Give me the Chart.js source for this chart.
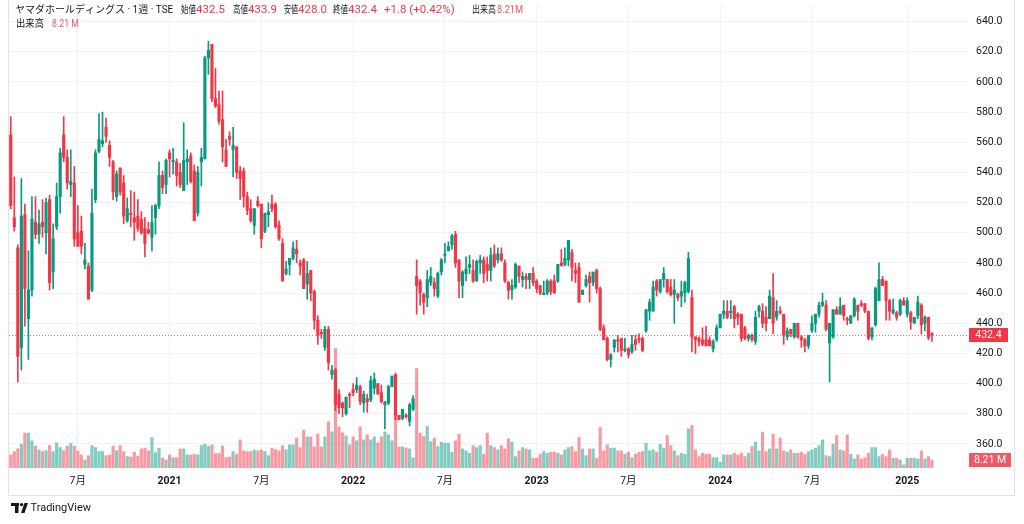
<!DOCTYPE html>
<html>
<head>
<meta charset="utf-8">
<script src="https://cdn.jsdelivr.net/npm/chart.js@4/dist/chart.umd.min.js"></script>
<style>
html,body{margin:0;padding:0;background:#fff;}
#wrap{width:1024px;height:524px;position:relative;}
</style>
</head>
<body>
<div id="wrap"><canvas id="c" width="1024" height="524"></canvas></div>
<script>
// weekly OHLC (week of 2020-02-24 .. 2025-02-24)
const opens = [565,510,490,424,512,443,462,507,499,507,
500,522,474,504,524,565,550,532,533,500,
501,479,478,462,522,554,559,570,558,547,
524,543,533,508,513,510,511,509,503,502,
497,510,518,538,532,553,547,547,540,528,
547,551,541,513,547,549,616,625,589,585,
575,555,564,555,557,541,541,524,516,505,
521,519,501,512,519,519,505,493,473,479,
483,489,480,482,466,475,461,442,434,424,
436,406,409,393,387,380,393,396,396,398,
387,390,389,397,400,394,386,387,398,406,
379,377,379,375,383,471,468,459,457,467,
467,458,474,485,488,492,499,482,465,473,
477,475,468,480,482,479,475,486,482,486,
480,467,462,464,478,469,471,469,473,468,
465,459,460,468,468,468,480,479,482,487,
475,477,459,465,471,467,475,463,437,430,
416,424,429,430,422,423,421,429,430,430,
435,448,448,468,461,469,469,464,459,459,
458,460,461,457,431,430,429,429,429,423,
429,437,446,448,447,451,446,446,437,430,
432,428,448,448,444,443,457,444,448,446,
431,436,431,440,431,429,425,435,440,446,
452,452,427,431,449,446,452,443,440,445,
452,453,453,448,431,439,455,469,468,455,
447,447,446,455,446,447,440,445,452,440,
444,432.5];

const highs = [577,537,492,536,519,488,524,524,515,522,
523,525,506,533,556,577,555,555,544,518,
511,493,480,529,555,579,580,576,561,548,
541,543,538,523,528,527,522,514,510,507,
518,519,547,541,549,555,556,549,546,573,
555,553,545,544,556,617,627,625,609,594,
594,562,567,570,557,544,543,527,522,516,
524,519,513,520,525,520,508,496,481,483,
494,495,482,483,481,475,462,445,436,438,
438,412,410,396,388,391,394,400,404,399,
395,393,405,407,400,399,388,399,405,407,
379,383,380,387,392,482,469,460,475,477,
470,474,483,493,494,499,501,482,475,484,
485,482,482,485,484,484,490,492,490,490,
482,468,469,480,478,474,473,473,477,469,
465,468,469,469,472,479,489,490,495,489,
480,480,462,472,474,474,476,464,439,431,
420,429,432,430,430,424,432,432,433,431,
449,456,468,469,469,477,469,469,469,460,
468,468,487,462,431,431,437,438,431,429,
439,446,455,455,455,452,447,446,438,433,
433,448,452,453,451,462,473,455,451,446,
437,436,440,440,432,430,432,445,446,454,
460,455,440,449,451,457,452,444,445,457,
452,455,453,448,437,464,480,471,468,456,
456,448,456,457,457,448,444,458,453,445,
444,433.9];

const lows = [516,501,401,409,438,416,458,496,493,497,
486,462,463,502,513,547,529,524,491,491,
486,476,456,461,520,553,557,560,544,522,
521,525,506,507,504,495,501,499,484,499,
488,499,516,526,526,537,539,531,530,528,
532,533,508,511,531,549,605,587,583,572,
547,544,558,537,536,522,517,512,507,499,
517,490,500,504,514,503,495,468,472,472,
482,480,472,463,456,455,436,426,430,422,
409,403,382,380,378,379,384,392,394,386,
381,381,388,393,393,387,370,386,398,376,
376,376,377,372,382,446,452,446,451,465,
458,457,472,480,488,489,477,457,457,468,
473,467,468,473,467,468,468,477,480,481,
467,456,456,463,467,464,463,463,465,460,
459,459,459,459,460,467,478,478,478,468,
467,454,459,464,454,465,460,435,429,415,
411,421,421,418,421,417,420,422,427,421,
434,442,448,458,460,464,460,458,440,455,
451,454,460,421,420,425,425,425,425,421,
428,437,443,443,443,437,439,428,429,428,
428,426,444,437,435,443,433,442,446,426,
429,431,430,430,424,421,423,434,434,444,
451,435,401,430,446,446,442,439,440,444,
442,451,447,429,429,438,455,465,442,442,
446,442,445,452,444,436,440,443,433,435,
429,428.0];

const closes = [518,504,418,511,463,462,509,499,506,504,
520,467,496,524,553,550,533,534,496,491,
491,482,456,513,553,562,561,564,550,527,
539,527,511,516,512,507,503,500,493,500,
507,518,538,530,548,549,548,538,532,548,
549,534,508,540,550,616,621,589,584,574,
557,544,562,558,540,536,524,515,508,516,
518,496,513,514,516,504,496,468,476,483,
490,486,478,463,473,460,442,432,433,436,
414,409,386,384,384,391,392,394,399,388,
393,388,402,403,393,388,388,398,405,379,
376,383,378,386,390,465,460,454,469,471,
463,473,482,486,491,498,480,468,474,476,
479,468,481,482,473,475,485,478,486,482,
468,462,465,479,471,471,469,473,467,463,
460,460,468,461,460,479,478,483,495,477,
473,454,462,469,467,474,463,436,429,416,
419,429,428,422,423,419,426,426,429,422,
449,454,464,462,469,473,461,459,462,457,
461,467,483,431,429,428,426,425,425,428,
437,446,448,444,448,443,444,430,430,432,
429,444,451,440,440,458,440,448,447,432,
435,433,440,431,429,425,432,440,446,452,
454,436,440,449,446,451,445,442,445,456,
448,452,448,430,437,463,469,465,455,448,
449,444,455,452,455,441,444,454,439,444,
430.6,432.4];

// weekly volume, millions
const volumes = [13.6,17.1,20,25,36.8,36.8,28.6,22.9,18.9,17.1,
18.2,23.5,17.1,26.4,21.4,18.2,22.9,25.7,22.9,17.9,
13.6,8.2,12.8,23.5,21.4,17.1,17.1,12.8,13.6,22.9,
18.2,23.5,17.1,11.8,11.4,16.5,12.2,20,20.8,17.9,
32.1,16.1,20.8,10.1,8.2,13.6,10.7,10.7,20,20,
13.6,13.6,14.3,13.6,23.5,25,22.5,24.3,15,15,
22.9,10.7,11.4,17.1,14.3,29.6,17.9,17.1,17.1,18.9,
17.9,18.9,17.1,12.8,20.8,19.3,17.9,23.5,19.3,24.3,
24.3,31.5,21.4,40,32.8,32.8,22.1,36,22.1,32.8,
48.9,38.2,127,43.5,37.1,33.9,24.3,32.8,28.6,43.5,
29.6,35,29.6,32.8,26.4,32.8,38.2,35,28.6,56.4,
22.1,22.1,21.1,20,10.4,105.6,36.8,33.2,43.9,27.8,
31.5,22.5,27.2,26.1,26.1,16.5,28.6,35.7,20,17.9,
15.4,23.5,21.4,23.5,14.3,36.8,23.5,21.4,18.9,23.5,
20,30.7,27.2,11.8,17.9,21.4,20,18.9,10.1,10.1,
14.3,17.1,15.4,16.5,16.5,15.4,13.6,18.9,21.4,22.5,
17.1,32.1,20,12.8,20,20,10.1,42.8,17.9,24.3,
20.8,20.8,17.9,17.9,14.3,16.5,10.7,14.3,16.5,17.1,
26.1,17.9,18.9,16.5,25,20.8,34.2,23.5,17.9,12.8,
15.4,14.3,41.4,44.9,18.9,11.8,15.4,14.3,14.3,10.7,
10.7,5.8,13.6,13.6,13.6,15.4,13.6,15.4,11.8,15.4,
22.5,27.2,17.9,37.9,17.1,20,35.7,20,31.5,17.9,
16.5,18.9,15.4,15.4,16.5,14.3,17.1,18.9,20.8,23.5,
29.6,12.8,11.8,25,34.2,18.9,17.9,35,14.3,9.3,
13.6,9.3,10.7,15.4,21.4,21.4,11.8,14.3,11.8,18.9,
10.1,10.1,8.2,2.9,10.1,10.1,10.1,9.3,17.9,9.3,
11.8,8.21];

// time axis ticks (week index -> label)
const tickIdx  = [19, 45, 71, 97, 123, 149, 175, 201, 227, 254];
const tickText = ['7月','2021','7月','2022','7月','2023','7月','2024','7月','2025'];

const priceTicks = [360,380,400,420,440,460,480,500,520,540,560,580,600,620,640];
const lastPrice = 432.4;
const lastVol = 8.21;

// categories: one per week, plus empty slots for the right margin
const weeks = [];
const start = Date.UTC(2020, 1, 24);
for (let i = 0; i < opens.length; i++) {
  weeks.push(new Date(start + i * 7 * 864e5).toISOString().slice(0, 10));
}
for (let k = 0; k < 10; k++) weeks.push('pad' + k);

const UP = '#089981', DN = '#f23645';
const UPV = 'rgba(8,153,129,0.5)', DNV = 'rgba(242,54,69,0.5)';
const isUp = closes.map((c, i) => c >= opens[i]);
const candleCol = isUp.map(u => u ? UP : DN);
const volCol = isUp.map(u => u ? UPV : DNV);

const FONT = 'Roboto, "Noto Sans CJK JP", sans-serif';
const TXT = '#131722';

const overlay = {
  id: 'overlay',
  beforeDatasetsDraw(chart) {
    const {ctx, chartArea: a, scales} = chart;
    const y = Math.round(scales.y.getPixelForValue(lastPrice)) + 0.5;
    ctx.save();
    ctx.strokeStyle = 'rgba(242,54,69,0.75)';
    ctx.lineWidth = 1;
    ctx.setLineDash([1, 2]);
    ctx.beginPath();
    ctx.moveTo(a.left, y);
    ctx.lineTo(a.right, y);
    ctx.stroke();
    ctx.restore();
  },
  afterDraw(chart) {
    const {ctx, chartArea: a, scales} = chart;
    ctx.save();
    // frame
    ctx.strokeStyle = '#e0e3eb';
    ctx.lineWidth = 1;
    ctx.beginPath();
    ctx.moveTo(8.5, 0); ctx.lineTo(8.5, 495.5); ctx.lineTo(1014.5, 495.5); ctx.lineTo(1014.5, 0);
    ctx.stroke();

    // last price label
    const py = scales.y.getPixelForValue(lastPrice);
    ctx.fillStyle = '#f23645';
    ctx.fillRect(a.right, Math.round(py) - 7, 39, 14);
    ctx.fillStyle = '#fff';
    ctx.font = '10.5px ' + FONT;
    ctx.textAlign = 'center';
    ctx.textBaseline = 'middle';
    ctx.fillText(lastPrice.toFixed(1), a.right + 19.5, Math.round(py));

    // last volume label
    const vy = scales.yVol.getPixelForValue(lastVol);
    ctx.fillStyle = '#f05a65';
    ctx.fillRect(a.right, Math.round(vy) - 7, 42, 14);
    ctx.fillStyle = '#fff';
    ctx.fillText(lastVol.toFixed(2) + ' M', a.right + 21, Math.round(vy));

    // legend lines: [x, text, colour, width available, font size]
    ctx.textAlign = 'left';
    const red = '#f23645', volRed = '#f7525f';
    const line1 = [
      [15, 'ヤマダホールディングス · 1週 · TSE', TXT, 159, 10],
      [181, '始値', TXT, 15, 10], [196, '432.5', red, 33, 11.5],
      [233, '高値', TXT, 15, 10], [248, '433.9', red, 31, 11.5],
      [284, '安値', TXT, 14, 10], [298, '428.0', red, 31, 11.5],
      [333, '終値', TXT, 15, 10], [348, '432.4', red, 31, 11.5],
      [384, '+1.8 (+0.42%)', red, 80, 11.5],
      [472, '出来高', TXT, 24, 10], [497, '8.21M', volRed, 26, 11.5]
    ];
    line1.forEach(([x, t, c, w, f]) => {
      ctx.font = f + 'px ' + FONT; ctx.fillStyle = c; ctx.fillText(t, x, 10, w);
    });
    ctx.font = '10px ' + FONT;
    ctx.fillStyle = TXT; ctx.fillText('出来高', 16, 24, 28);
    ctx.font = '11.5px ' + FONT;
    ctx.fillStyle = volRed; ctx.fillText('8.21 M', 52, 24, 27);

    // TradingView mark
    ctx.fillStyle = TXT;
    ctx.fillRect(11, 503, 8, 3);
    ctx.fillRect(15, 503, 3.5, 10);
    ctx.beginPath(); ctx.arc(21.5, 504.6, 1.7, 0, Math.PI * 2); ctx.fill();
    ctx.beginPath();
    ctx.moveTo(21, 513); ctx.lineTo(24.5, 503); ctx.lineTo(28, 503); ctx.lineTo(24.5, 513);
    ctx.closePath(); ctx.fill();
    ctx.font = '11px ' + FONT;
    ctx.fillText('TradingView', 30.5, 508.5);
    ctx.restore();
  }
};

new Chart(document.getElementById('c'), {
  type: 'bar',
  data: {
    labels: weeks,
    datasets: [
      { label: 'vol', data: volumes, yAxisID: 'yVol', backgroundColor: volCol,
        barThickness: 2.5, grouped: false, order: 3 },
      { label: 'wick', data: lows.map((l, i) => [l, highs[i]]), yAxisID: 'y',
        backgroundColor: candleCol, barThickness: 1, grouped: false, order: 2 },
      { label: 'body', data: opens.map((o, i) => [o, closes[i]]), yAxisID: 'y',
        backgroundColor: candleCol, barThickness: 2.5, minBarLength: 1, grouped: false, order: 1 }
    ]
  },
  options: {
    responsive: false,
    animation: false,
    events: [],
    layout: { padding: { left: 9, right: 10, top: 4, bottom: 28 } },
    plugins: { legend: { display: false }, tooltip: { enabled: false } },
    scales: {
      x: {
        type: 'category',
        offset: true,
        grid: { color: '#f0f3fa', offset: false, drawTicks: false },
        border: { display: false },
        afterBuildTicks: s => { s.ticks = tickIdx.map(v => ({ value: v })); },
        afterFit: s => { s.height = 26; s.paddingLeft = 0; s.paddingRight = 0; },
        ticks: {
          autoSkip: false, maxRotation: 0, padding: 5, color: TXT,
          font: c => ({ family: FONT, size: 10.5, weight: tickText[c.index] === '7月' ? 'normal' : 'bold' }),
          callback: (v, i) => tickText[i]
        }
      },
      y: {
        position: 'right',
        min: 342.7, max: 651.7,
        grid: { color: '#f0f3fa', drawTicks: false },
        border: { display: false },
        afterBuildTicks: s => { s.ticks = priceTicks.map(v => ({ value: v })); },
        afterFit: s => { s.width = 45; s.paddingTop = 0; s.paddingBottom = 0; },
        ticks: { padding: 7, color: TXT, font: { family: FONT, size: 10.5 },
          callback: v => Number(v).toFixed(1) }
      },
      yVol: {
        display: false,
        min: -2.5, max: 494
      }
    }
  },
  plugins: [overlay]
});
</script>
</body>
</html>
